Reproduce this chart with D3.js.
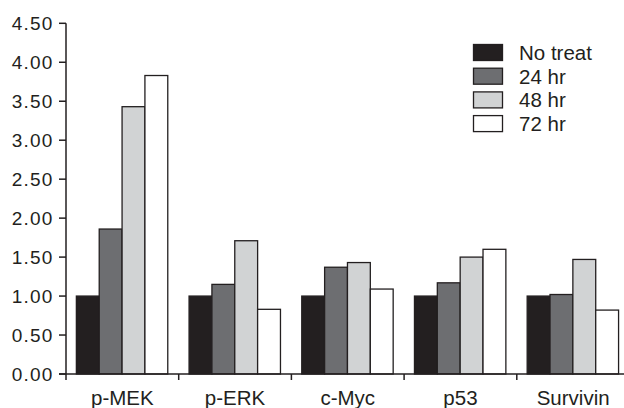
<!DOCTYPE html>
<html>
<head>
<meta charset="utf-8">
<script src="https://cdn.jsdelivr.net/npm/d3@7"></script>
<style>
	body { margin:0; background:#fff; }
	svg { display:block; }
	.tick-text { font-family:"Liberation Sans", Arial, sans-serif; font-size:19px; fill:#231f20; letter-spacing:1.2px; }
	.cat-text { font-family:"Liberation Sans", Arial, sans-serif; font-size:20.5px; fill:#231f20; }
	.leg-text { font-family:"Liberation Sans", Arial, sans-serif; font-size:20.5px; fill:#231f20; }
	.axis-line { stroke:#231f20; stroke-width:1.5; fill:none; }
	.bar { stroke:#231f20; stroke-width:1.3; }
</style>
</head>
<body>
<svg id="chart" width="624" height="408"></svg>
<script>
var categories = ['p-MEK', 'p-ERK', 'c-Myc', 'p53', 'Survivin'];
var seriesNames = ['No treat', '24 hr', '48 hr', '72 hr'];
var noTreat = [1.00, 1.00, 1.00, 1.00, 1.00];
var hr24 = [1.86, 1.15, 1.37, 1.17, 1.02];
var hr48 = [3.43, 1.71, 1.43, 1.50, 1.47];
var hr72 = [3.83, 0.83, 1.09, 1.60, 0.82];
var yTicks = [0, 0.5, 1, 1.5, 2, 2.5, 3, 3.5, 4, 4.5];
var colors = ['#231f20', '#6d6e71', '#d1d3d4', '#ffffff'];

var series = [noTreat, hr24, hr48, hr72];

var svg = d3.select('#chart');
var originX = 66;
var originY = 374;

var y = d3.scaleLinear().domain([0, 4.5]).range([originY, 23.3]);
var x = d3.scaleBand().domain(categories).range([originX, 629.5]);
var xSub = d3.scaleBand().domain(seriesNames)
	.range([x.bandwidth()*0.092, x.bandwidth()*0.903]);

// bars
var groups = svg.append('g').attr('class', 'bars');
categories.forEach(function(cat, ci){
	series.forEach(function(vals, si){
		groups.append('rect')
			.attr('class', 'bar')
			.attr('x', x(cat) + xSub(seriesNames[si]))
			.attr('y', y(vals[ci]))
			.attr('width', xSub.bandwidth())
			.attr('height', originY - y(vals[ci]))
			.attr('fill', colors[si]);
	});
});

// y axis
var gY = svg.append('g');
gY.append('line').attr('class', 'axis-line')
	.attr('x1', originX).attr('x2', originX)
	.attr('y1', y(4.5)).attr('y2', originY + 6);
yTicks.forEach(function(t){
	gY.append('line').attr('class', 'axis-line')
		.attr('x1', originX - 7).attr('x2', originX)
		.attr('y1', y(t)).attr('y2', y(t));
	gY.append('text').attr('class', 'tick-text')
		.attr('x', originX - 12.5).attr('y', y(t) + 6.7)
		.attr('text-anchor', 'end')
		.text(d3.format('.2f')(t));
});

// x axis
var gX = svg.append('g');
gX.append('line').attr('class', 'axis-line')
	.attr('x1', originX - 7).attr('x2', 629.5)
	.attr('y1', originY).attr('y2', originY);
categories.forEach(function(cat){
	gX.append('line').attr('class', 'axis-line')
		.attr('x1', x(cat) + x.bandwidth()).attr('x2', x(cat) + x.bandwidth())
		.attr('y1', originY).attr('y2', originY + 6);
	gX.append('text').attr('class', 'cat-text')
		.attr('x', x(cat) + x.bandwidth()/2).attr('y', 404.5)
		.attr('text-anchor', 'middle')
		.text(cat);
});

// legend
var gL = svg.append('g').attr('transform', 'translate(473.5,44.5)');
seriesNames.forEach(function(name, i){
	gL.append('rect').attr('class', 'bar')
		.attr('x', 0).attr('y', i*23.7)
		.attr('width', 29).attr('height', 16)
		.attr('fill', colors[i]);
	gL.append('text').attr('class', 'leg-text')
		.attr('x', 45.5).attr('y', i*23.7 + 15.5)
		.text(name);
});
</script>
</body>
</html>
